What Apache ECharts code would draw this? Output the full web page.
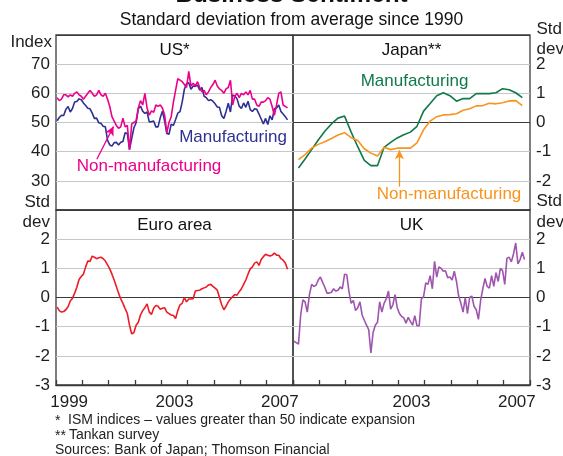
<!DOCTYPE html>
<html>
<head>
<meta charset="utf-8">
<script src="https://cdn.jsdelivr.net/npm/echarts@6/dist/echarts.min.js"></script>
<style>
html,body{margin:0;padding:0;background:#ffffff;}
#chart{width:563px;height:456px;}
</style>
</head>
<body>
<div id="chart"></div>
<script>
// ---------------- DATA (monthly from Jan 1999 unless noted) ----------------
const firstYear = 1999;
const yearLabelsLeft = ['1999', '2003', '2007'];
const yearLabelsRight = ['2003', '2007'];

// US ISM indices, monthly Jan 1999 - Oct 2007
const usManufacturing = [
  50.6, 51.7, 52.5, 52.4, 54.5, 55.5, 53.6, 54.8, 57.0, 57.2, 58.1, 57.8,
  56.7, 55.8, 54.9, 54.7, 53.2, 51.4, 51.5, 49.9, 49.7, 48.7, 48.5, 43.9,
  42.3, 41.9, 43.1, 43.2, 42.3, 43.2, 43.5, 46.5, 46.2, 40.8, 44.5, 48.2,
  49.9, 54.7, 55.6, 53.9, 53.1, 53.6, 50.2, 50.3, 50.5, 48.5, 48.5, 51.6,
  53.9, 50.5, 46.2, 46.0, 49.4, 49.0, 51.0, 53.2, 53.7, 57.0, 61.4, 63.4,
  63.6, 61.4, 62.5, 62.4, 62.8, 61.1, 62.0, 59.0, 58.5, 57.5, 57.8, 57.3,
  56.4, 55.3, 55.2, 52.3, 51.4, 53.8, 56.6, 53.6, 59.4, 59.1, 58.1, 55.6,
  54.8, 56.7, 55.2, 57.3, 54.4, 53.8, 54.7, 54.5, 52.9, 51.2, 49.5, 51.4,
  49.3, 52.3, 50.9, 54.7, 55.0, 56.0, 53.8, 52.9, 52.0, 50.9
];
const usNonManufacturing = [
  58.5, 57.5, 58.0, 59.5, 59.5, 58.8, 59.5, 59.0, 60.0, 60.5, 59.5, 59.0,
  58.0, 59.0, 60.0, 61.0, 60.0, 59.0, 59.5, 61.0, 59.5, 59.0, 60.0, 58.0,
  55.5, 52.0, 50.5, 49.0, 48.0, 48.5, 51.5, 48.5, 49.0, 40.6, 49.5, 50.0,
  50.5, 55.0, 57.5, 56.0, 60.0, 55.0, 52.5, 54.0, 53.5, 56.0, 55.5, 56.0,
  55.0, 52.5, 46.5, 50.0, 52.0, 57.0, 61.0, 65.0, 64.5, 64.0, 63.0, 62.0,
  67.5, 62.5, 63.5, 62.5, 64.0, 62.0, 60.5, 61.0, 59.5, 60.5, 62.0, 63.0,
  64.5, 62.5, 61.5, 61.0, 60.0, 61.5, 62.0, 64.5, 56.0, 59.0, 60.0, 58.5,
  60.0, 59.5, 60.5, 59.5, 61.0, 58.0, 58.0, 56.0, 55.5, 57.0, 57.0, 57.5,
  58.5, 58.0, 55.5, 52.5, 56.0, 60.0, 60.5, 56.0, 55.5, 55.0
];

// Japan Tankan, quarterly Mar 1999 - Sep 2007 (std dev)
const japanManufacturing = [
  -1.56, -1.25, -0.93, -0.60, -0.30, -0.05, 0.15, 0.22, -0.33, -0.83, -1.30, -1.48,
  -1.48, -0.85, -0.68, -0.53, -0.42, -0.33, -0.13, 0.39, 0.65, 0.92, 1.02, 0.92,
  0.73, 0.82, 0.82, 0.99, 0.99, 0.99, 1.02, 1.16, 1.12, 1.02, 0.85
];
const japanNonManufacturing = [
  -1.27, -1.10, -0.88, -0.75, -0.66, -0.55, -0.43, -0.35, -0.52, -0.62, -0.90, -1.05,
  -1.15, -0.85, -0.93, -0.88, -0.88, -0.88, -0.70, -0.25, 0.05, 0.20, 0.26, 0.27,
  0.30, 0.42, 0.47, 0.57, 0.58, 0.66, 0.64, 0.68, 0.74, 0.75, 0.58
];

// Euro area, monthly Jan 1999 - Oct 2007 (std dev)
const euroArea = [
  -0.33, -0.45, -0.50, -0.48, -0.42, -0.32, -0.12, -0.03, 0.15, 0.35, 0.62, 0.72,
  0.80, 1.05, 1.25, 1.24, 1.42, 1.38, 1.33, 1.36, 1.38, 1.33, 1.25, 1.12,
  0.98, 0.80, 0.60, 0.38, 0.15, -0.05, -0.20, -0.38, -0.55, -0.95, -1.25, -1.20,
  -0.95, -0.85, -0.60, -0.45, -0.35, -0.22, -0.50, -0.58, -0.37, -0.27, -0.30, -0.40,
  -0.37, -0.35, -0.50, -0.55, -0.60, -0.62, -0.72, -0.45, -0.25, -0.20, 0.00, -0.15,
  -0.05, -0.05, -0.04, 0.22, 0.24, 0.25, 0.30, 0.33, 0.36, 0.43, 0.45, 0.38,
  0.32, 0.25, 0.00, -0.25, -0.42, -0.30, -0.15, -0.05, 0.03, 0.10, 0.08, 0.20,
  0.30, 0.45, 0.60, 0.80, 0.98, 1.05, 1.18, 1.22, 1.10, 1.30, 1.40, 1.48,
  1.45, 1.42, 1.45, 1.52, 1.45, 1.45, 1.33, 1.28, 1.18, 0.97
];

// UK, monthly Jan 1999 - Oct 2007 (std dev)
const unitedKingdom = [
  -1.50, -1.55, -1.60, -0.60, -0.08, -0.15, -0.50, 0.10, 0.45, 0.38, 0.42, 0.60,
  0.70, 0.52, 0.35, 0.15, 0.15, 0.18, 0.30, 0.22, 0.25, 0.36, 0.30, 0.80,
  0.78, 0.20, -0.20, -0.10, -0.45, -0.35, -0.15, -0.60, -0.78, -0.95, -1.10, -1.90,
  -1.20, -0.95, -0.85, -0.15, -0.50, -0.20, -0.05, 0.22, -0.40, -0.25, 0.10, -0.35,
  -0.55, -0.65, -0.70, -0.88, -0.68, -0.82, -0.95, -0.62, -0.97, -0.97, -0.05, 0.03,
  0.50, 0.45, 0.75, 0.30, 1.24, 0.70, 1.05, 1.00, 0.90, 0.92, 0.68, 0.70,
  0.60, 0.90, 0.55, 0.05, -0.20, -0.50, 0.00, -0.55, 0.00, 0.05, -0.30, -0.42,
  -0.75, -0.10, 0.30, 0.65, 0.38, 0.32, 0.75, 0.38, 0.85, 0.55, 1.00, 0.92,
  0.45, 1.35, 1.38, 1.22, 1.50, 1.87, 1.15, 1.30, 1.55, 1.30
];

const usTicks = [20, 30, 40, 50, 60, 70, 80];
const stdTicks = [-3, -2, -1, 0, 1, 2, 3];

// ---------------- helpers ----------------
const monthly = (arr, startMonth) => arr.map((v, i) => [startMonth + i + 0.5, v]);
const quarterly = (arr, startMonth) => arr.map((v, i) => [startMonth + 3 * i + 0.5, v]);

const FONT = '"Liberation Sans", Arial, Helvetica, sans-serif';
const frameColor = '#3b3b3b';
const gridGray = '#c5c8cb';
const labelColor = '#1e1e1e';
const C = {
  blue: '#2e3192', pink: '#ec008c', green: '#0f7a48', orange: '#f7941d',
  red: '#ed1c24', purple: '#9f55ae'
};

const splitColors = (ticks, darkVals) => ticks.map(t => darkVals.includes(t) ? frameColor : gridGray);

const chart = echarts.init(document.getElementById('chart'), null, {renderer: 'canvas'});

const gridBox = (left, top) => ({
  left, top, width: 237, height: 175, show: true, borderColor: frameColor, borderWidth: 1.3,
  backgroundColor: 'transparent', containLabel: false
});

const tickXAxis = (gi, bottom) => ({
  gridIndex: gi, type: 'value', min: 0, max: 108, interval: 12, position: 'bottom',
  axisLine: {show: bottom, onZero: false, lineStyle: {color: frameColor, width: 1.3}},
  axisTick: {show: bottom, inside: true, length: 5, lineStyle: {color: frameColor, width: 1.3}},
  axisLabel: {show: false}, splitLine: {show: false}
});
const labelXAxis = (gi, labels) => ({
  gridIndex: gi, type: 'value', min: 0, max: 108, interval: 6, position: 'bottom',
  axisLine: {show: false, onZero: false}, axisTick: {show: false}, splitLine: {show: false},
  axisLabel: {
    show: true, fontSize: 17, fontFamily: FONT, color: labelColor, margin: 9,
    formatter: (v) => {
      if ((v - 6) % 12 !== 0) return '';
      const y = String(firstYear + (v - 6) / 12);
      return labels.includes(y) ? y : '';
    }
  }
});
const yAx = (gi, pos, ticks, dark, showMin) => ({
  gridIndex: gi, type: 'value', position: pos,
  min: ticks[0], max: ticks[ticks.length - 1], interval: ticks[1] - ticks[0],
  axisLine: {show: false, onZero: false}, axisTick: {show: false},
  axisLabel: {show: true, showMinLabel: showMin, showMaxLabel: false, fontSize: 17,
    fontFamily: FONT, color: labelColor, margin: 6},
  splitLine: {show: true, lineStyle: {color: splitColors(ticks, dark), width: 1.2}}
});

const lineSeries = (name, data, xi, yi, color, extra) => Object.assign({
  name, type: 'line', xAxisIndex: xi, yAxisIndex: yi, data,
  showSymbol: false, symbol: 'none', smooth: false, animation: false,
  lineStyle: {color, width: 1.6}, itemStyle: {color}, z: 3
}, extra || {});

const arrow = (color, from, to) => ({
  silent: true, animation: false, symbol: ['none', 'arrow'], symbolSize: [7, 9],
  lineStyle: {color, width: 1.3, type: 'solid'}, label: {show: false},
  data: [[{coord: from}, {coord: to}]]
});

const txt = (text, x, y, color, size, align, weight) => ({
  type: 'text', x, y, silent: true, z: 10,
  style: {text, fill: color, font: (weight || 'normal') + ' ' + size + 'px ' + FONT,
    textAlign: align || 'center', textVerticalAlign: 'middle'}
});

const option = {
  animation: false,
  backgroundColor: '#ffffff',
  textStyle: {fontFamily: FONT},
  grid: [gridBox(56, 35), gridBox(293, 35), gridBox(56, 210), gridBox(293, 210)],
  xAxis: [tickXAxis(0, false), tickXAxis(1, false), tickXAxis(2, true), tickXAxis(3, true),
          labelXAxis(2, yearLabelsLeft), labelXAxis(3, yearLabelsRight)],
  yAxis: [
    yAx(0, 'left', usTicks, [20, 80], false),
    yAx(1, 'right', stdTicks, [-3, 0, 3], false),
    yAx(2, 'left', stdTicks, [-3, 0, 3], true),
    yAx(3, 'right', stdTicks, [-3, 0, 3], true)
  ],
  series: [
    lineSeries('US manufacturing', monthly(usManufacturing, 0), 0, 0, C.blue),
    lineSeries('US non-manufacturing', monthly(usNonManufacturing, 0), 0, 0, C.pink,
      {markLine: arrow(C.pink, [18.6, 37.4], [26.2, 48.6])}),
    lineSeries('Japan manufacturing', quarterly(japanManufacturing, 2), 1, 1, C.green),
    lineSeries('Japan non-manufacturing', quarterly(japanNonManufacturing, 2), 1, 1, C.orange,
      {markLine: arrow(C.orange, [48.5, -2.2], [48.5, -0.95])}),
    lineSeries('Euro area', monthly(euroArea, 0), 2, 2, C.red),
    lineSeries('UK', monthly(unitedKingdom, 0), 3, 3, C.purple)
  ],
  graphic: [
    txt('Business Sentiment', 291.5, -5, '#111', 24.3, 'center', 'bold'),
    txt('Standard deviation from average since 1990', 291.5, 20, '#111', 17.5),
    txt('US*', 174.5, 50, '#111', 17),
    txt('Japan**', 411.5, 50, '#111', 17),
    txt('Euro area', 174.5, 225, '#111', 17),
    txt('UK', 411.5, 225, '#111', 17),
    txt('Index', 52, 42, labelColor, 17, 'right'),
    txt('Std', 50, 202, labelColor, 17, 'right'),
    txt('dev', 50, 222, labelColor, 17, 'right'),
    txt('Std', 536.5, 29, labelColor, 17, 'left'),
    txt('dev', 536.5, 49, labelColor, 17, 'left'),
    txt('Std', 536.5, 201, labelColor, 17, 'left'),
    txt('dev', 536.5, 222, labelColor, 17, 'left'),
    txt('Manufacturing', 233, 137, C.blue, 17),
    txt('Non-manufacturing', 149, 166, C.pink, 17),
    txt('Manufacturing', 414.5, 81, C.green, 17),
    txt('Non-manufacturing', 449, 194, C.orange, 17),
    txt('*', 55, 421, '#222', 14, 'left'),
    txt('ISM indices \u2013 values greater than 50 indicate expansion', 68, 420, '#222', 14, 'left'),
    txt('**', 55, 436, '#222', 14, 'left'),
    txt('Tankan survey', 69, 435, '#222', 14, 'left'),
    txt('Sources: Bank of Japan; Thomson Financial', 55, 450, '#222', 14, 'left')
  ]
};
chart.setOption(option);
</script>
</body>
</html>
